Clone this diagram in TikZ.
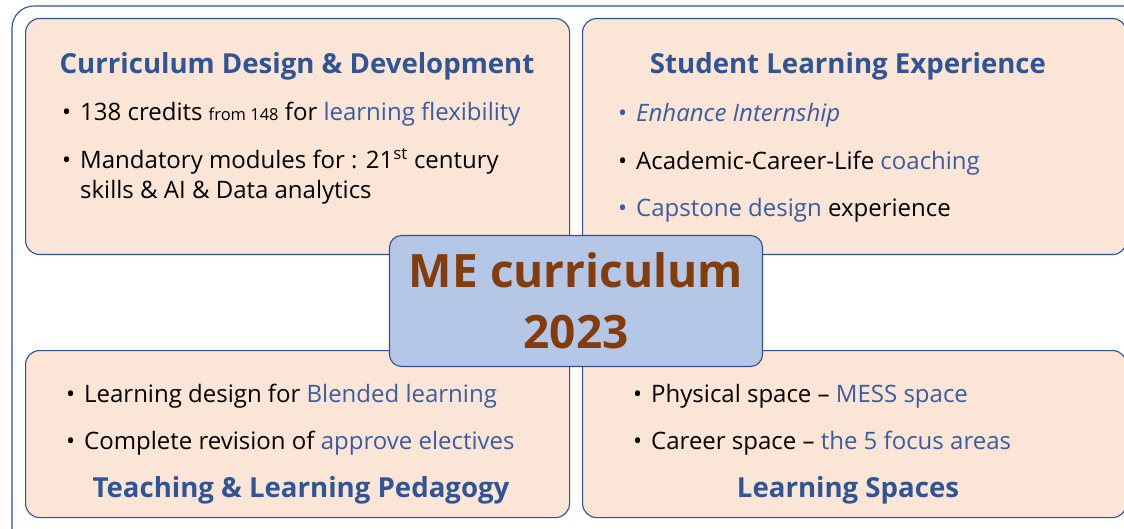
\documentclass[tikz,border=0pt]{standalone}
\usepackage{fontspec}
\setmainfont{Open Sans}
\usetikzlibrary{positioning}
\definecolor{frame}{HTML}{2F528F}
\definecolor{peach}{HTML}{FBE5D6}
\definecolor{hubfill}{HTML}{B4C7E7}
\definecolor{head}{HTML}{2F5597}
\definecolor{soft}{HTML}{3B5CA0}
\definecolor{rust}{HTML}{843C0C}
\newcommand{\hl}[1]{\textcolor{soft}{#1}}
\newcommand{\pt}{\makebox[18pt][l]{•}}

\begin{document}
\begin{tikzpicture}[x=1pt,y=-1pt,
  panel/.style={draw=frame,fill=peach,line width=1.1pt,rounded corners=14pt,
    anchor=north west,inner sep=0pt,minimum width=544,minimum height=236},
  lowpanel/.style={panel,minimum height=167},
  title/.style={anchor=base,inner sep=0pt,text=head,font=\fontsize{27.6}{30}\selectfont\bfseries},
  item/.style={anchor=base west,inner sep=0pt,align=left,font=\fontsize{24}{30}\selectfont}]
 \useasboundingbox (0,0) rectangle (1124,529);
 \clip (0,0) rectangle (1124,529);
 % outer frame, runs off the right and bottom
 \draw[frame,line width=1.1pt,rounded corners=22pt] (12,6) rectangle (1170,580);

 % four quarters
 \node[panel] (design) at (25,18) {};
 \node[panel] (student) at (582,18) {};
 \node[lowpanel] (teach) at (25,350) {};
 \node[lowpanel] (space) at (582,350) {};

 \node[title] (designT) at (297,74) {Curriculum Design \& Development};
 \node[item] (d1) at (62,121) {\pt138 credits {\fontsize{16.5}{16.5}\selectfont from 148} for \hl{learning flexibility}};
 \node[item] (d2) at (62,199) {\pt Mandatory modules for : 21\textsuperscript{st} century\\
   \hspace*{18pt}skills \& AI \& Data analytics};

 \node[title] (studentT) at (848,74) {Student Learning Experience};
 \node[item,text=soft] (s1) at (618,122) {\pt\textit{Enhance Internship}};
 \node[item] (s2) at (618,170) {\pt Academic-Career-Life \hl{coaching}};
 \node[item] (s3) at (618,217) {\hl{\pt Capstone design} experience};

 \node[item] (t1) at (66,402) {\pt Learning design for \hl{Blended learning}};
 \node[item] (t2) at (66,449) {\pt Complete revision of \hl{approve electives}};
 \node[title] (teachT) at (301,497) {Teaching \& Learning Pedagogy};

 \node[item] (p1) at (633,402) {\pt Physical space -- \hl{MESS space}};
 \node[item] (p2) at (633,449) {\pt Career space -- \hl{the 5 focus areas}};
 \node[title] (spaceT) at (848,497) {Learning Spaces};

 % centre hub
 \node[draw=frame,fill=hubfill,line width=1.1pt,rounded corners=12pt,
   minimum width=373,minimum height=131,align=center,text=rust,
   font=\fontsize{46}{61}\selectfont\bfseries] (hub) at (576,301) {ME curriculum\\2023};
\end{tikzpicture}
\end{document}
